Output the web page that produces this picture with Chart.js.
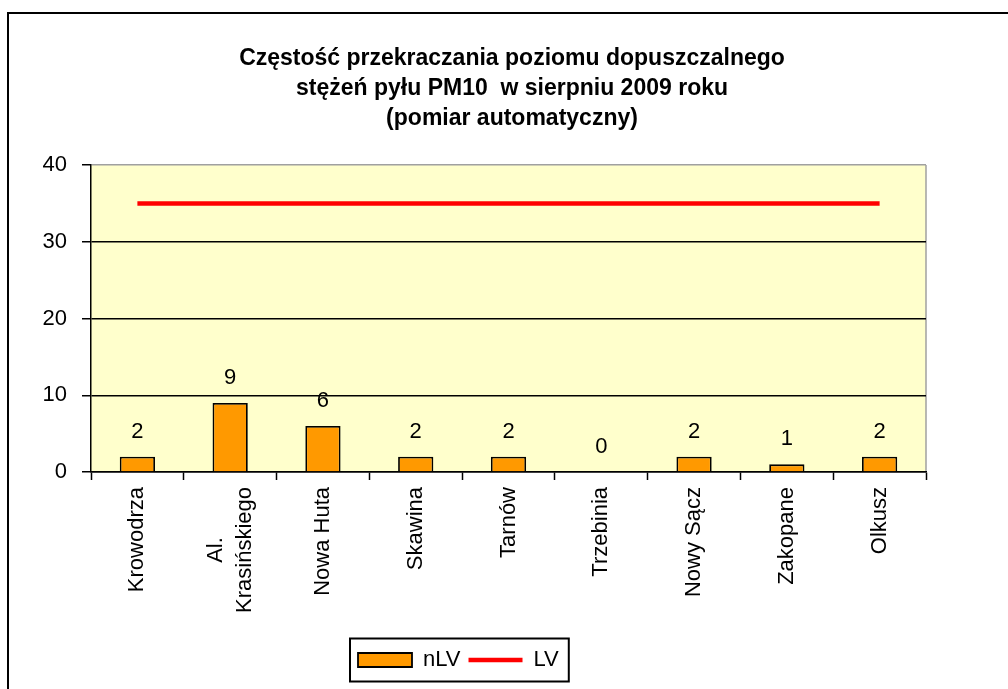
<!DOCTYPE html>
<html>
<head>
<meta charset="utf-8">
<script src="https://cdn.jsdelivr.net/npm/chart.js@4/dist/chart.umd.min.js"></script>
<style>
  html, body { margin: 0; padding: 0; background: #ffffff; }
  #wrap { width: 1008px; height: 689px; position: relative; }
</style>
</head>
<body>
<div id="wrap"><canvas id="c" width="1008" height="689"></canvas></div>
<script>
const categories = [['Krowodrza'], ['Al.', 'Krasińskiego'], ['Nowa Huta'], ['Skawina'], ['Tarnów'], ['Trzebinia'], ['Nowy Sącz'], ['Zakopane'], ['Olkusz']];
const nLV = [2, 9, 6, 2, 2, 0, 2, 1, 2];
const LV = [35, 35, 35, 35, 35, 35, 35, 35, 35];
const yTicks = [0, 10, 20, 30, 40];
const titleLines = ['Częstość przekraczania poziomu dopuszczalnego', 'stężeń pyłu PM10  w sierpniu 2009 roku', '(pomiar automatyczny)'];
const seriesNames = ['nLV', 'LV'];

const FONT = "'Liberation Sans', Arial, sans-serif";

const framePlugin = {
  id: 'frame',
  beforeDraw(chart) {
    const ctx = chart.ctx;
    const a = chart.chartArea;
    ctx.save();
    ctx.fillStyle = '#ffffff';
    ctx.fillRect(0, 0, chart.width, chart.height);
    ctx.strokeStyle = '#000000';
    ctx.lineWidth = 2;
    ctx.beginPath();
    ctx.moveTo(8, chart.height + 2);
    ctx.lineTo(8, 13);
    ctx.lineTo(chart.width + 2, 13);
    ctx.stroke();
    ctx.fillStyle = '#FFFFCC';
    ctx.fillRect(a.left, a.top, a.right - a.left, a.bottom - a.top);
    ctx.strokeStyle = '#A0A0A0';
    ctx.lineWidth = 1.5;
    ctx.beginPath();
    ctx.moveTo(a.right, a.top);
    ctx.lineTo(a.right, a.bottom);
    ctx.stroke();
    ctx.restore();
  },
  afterLayout(chart) {
    const lg = chart.legend;
    if (lg) {
      const w = lg.right - lg.left;
      lg.left = 350;
      lg.right = 350 + w;
    }
    const tb = chart.titleBlock;
    if (tb) {
      tb.left = 16;
      tb.right = 1008;
      tb.width = 992;
    }
  },
  afterDatasetsDraw(chart) {
    const ctx = chart.ctx;
    const meta = chart.getDatasetMeta(0);
    const ys = chart.scales.y;
    ctx.save();
    ctx.font = '22px ' + FONT;
    ctx.fillStyle = '#000000';
    ctx.textAlign = 'center';
    ctx.textBaseline = 'middle';
    meta.data.forEach((bar, i) => {
      const v = chart.data.datasets[0].data[i];
      ctx.fillText(String(v), bar.x, ys.getPixelForValue(v) - 25);
    });
    ctx.restore();
  },
  afterDraw(chart) {
    const ctx = chart.ctx;
    // category labels (rotated, block top-aligned, lines centred)
    const xs = chart.scales.x;
    const top0 = xs.top + 15;
    const lh = 29;
    ctx.save();
    ctx.font = '22px ' + FONT;
    ctx.fillStyle = '#000000';
    ctx.textAlign = 'center';
    ctx.textBaseline = 'middle';
    chart.data.labels.forEach((lines, i) => {
      const cx = xs.getPixelForValue(i);
      const maxW = Math.max(...lines.map(s => ctx.measureText(s).width));
      lines.forEach((s, k) => {
        const x = cx + (k - (lines.length - 1) / 2) * lh;
        ctx.save();
        ctx.translate(x, top0 + maxW / 2);
        ctx.rotate(-Math.PI / 2);
        ctx.fillText(s, 0, 0);
        ctx.restore();
      });
    });
    ctx.restore();

    const lg = chart.legend;
    if (!lg || !lg.legendHitBoxes || !lg.legendHitBoxes.length) return;
    const hb = lg.legendHitBoxes;
    const left = Math.min(...hb.map(h => h.left)) - 8;
    const right = Math.max(...hb.map(h => h.left + h.width)) + 10;
    const cy = hb[0].top + hb[0].height / 2;
    ctx.save();
    ctx.strokeStyle = '#000000';
    ctx.lineWidth = 2;
    ctx.strokeRect(left, cy - 21.5, right - left, 43);
    ctx.restore();
  }
};

new Chart(document.getElementById('c'), {
  type: 'bar',
  data: {
    labels: categories,
    datasets: [
      {
        type: 'bar',
        label: seriesNames[0],
        data: nLV,
        backgroundColor: '#FF9900',
        borderColor: '#000000',
        borderWidth: 1.8,
        barPercentage: 0.38,
        categoryPercentage: 1.0,
        pointStyle: 'rect',
        order: 1
      },
      {
        type: 'line',
        label: seriesNames[1],
        data: LV,
        borderColor: '#FF0000',
        backgroundColor: '#FF0000',
        borderWidth: 4.5,
        pointRadius: 0,
        pointHoverRadius: 0,
        pointStyle: 'line',
        fill: false,
        order: 0
      }
    ]
  },
  options: {
    responsive: false,
    animation: false,
    events: [],
    layout: { padding: { left: 0, right: 82, top: 0, bottom: 8 } },
    plugins: {
      title: {
        display: true,
        text: titleLines,
        color: '#000000',
        font: { family: FONT, size: 23, weight: 'bold', lineHeight: 30 / 23 },
        padding: { top: 44, bottom: 31 }
      },
      legend: {
        display: true,
        position: 'bottom',
        align: 'start',
        labels: {
          color: '#000000',
          font: { family: FONT, size: 22 },
          usePointStyle: true,
          pointStyleWidth: 54,
          boxHeight: 14,
          padding: 8,
          sort: (a, b) => a.datasetIndex - b.datasetIndex
        }
      },
      tooltip: { enabled: false }
    },
    scales: {
      x: {
        offset: true,
        grid: {
          offset: true,
          drawOnChartArea: false,
          drawTicks: true,
          tickLength: 8,
          tickColor: '#000000',
          tickWidth: 1.5
        },
        border: { display: true, color: '#000000', width: 1.5 },
        ticks: { display: false },
        afterFit(scale) { scale.height = 169; }
      },
      y: {
        min: 0,
        max: 40,
        afterBuildTicks(scale) { scale.ticks = yTicks.map(v => ({ value: v })); },
        grid: {
          color: ctx => (ctx.tick && ctx.tick.value === 40 ? '#A0A0A0' : '#000000'),
          lineWidth: 1.5,
          drawTicks: true,
          tickLength: 9,
          tickColor: '#000000'
        },
        border: { display: true, color: '#000000', width: 1.5 },
        ticks: {
          color: '#000000',
          font: { family: FONT, size: 22 },
          padding: 15
        },
        afterFit(scale) { scale.width = 91; }
      }
    }
  },
  plugins: [framePlugin]
});
</script>
</body>
</html>
